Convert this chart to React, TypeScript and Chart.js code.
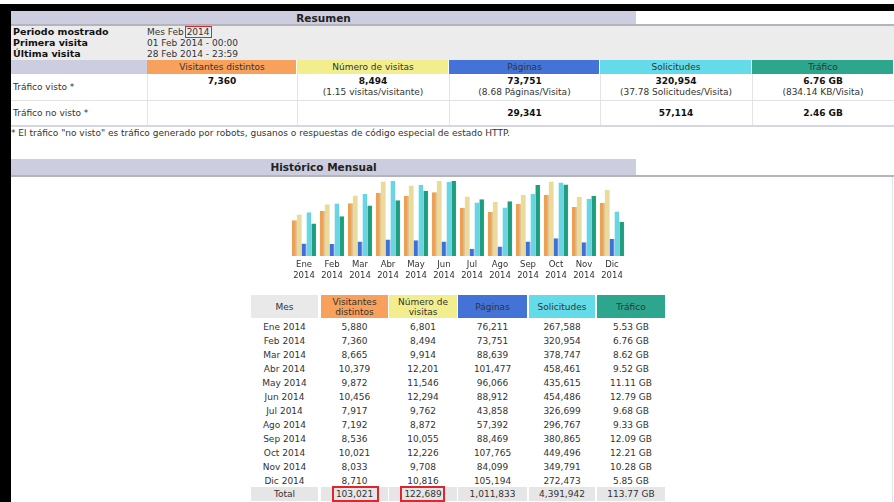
import React, { useEffect, useRef } from 'react';
import { Chart, registerables } from 'chart.js';
Chart.register(...registerables);

const months = ['Ene', 'Feb', 'Mar', 'Abr', 'May', 'Jun', 'Jul', 'Ago', 'Sep', 'Oct', 'Nov', 'Dic'];
const year = '2014';
const visitors = [5880, 7360, 8665, 10379, 9872, 10456, 7917, 7192, 8536, 10021, 8033, 8710];
const visits = [6801, 8494, 9914, 12201, 11546, 12294, 9762, 8872, 10055, 12226, 9708, 10816];
const pages = [76211, 73751, 88639, 101477, 96066, 88912, 43858, 57392, 88469, 107765, 84099, 105194];
const hits = [267588, 320954, 378747, 458461, 435615, 454486, 326699, 296767, 380865, 449496, 349791, 272473];
const bandwidthGB = [5.53, 6.76, 8.62, 9.52, 11.11, 12.79, 9.68, 9.33, 12.09, 12.21, 10.28, 5.85];

const summaryHeaders = ['Visitantes distintos', 'Número de visitas', 'Páginas', 'Solicitudes', 'Tráfico'];
const summarySeen = ['7,360', '8,494', '73,751', '320,954', '6.76 GB'];
const summarySeenSub = ['', '(1.15 visitas/visitante)', '(8.68 Páginas/Visita)', '(37.78 Solicitudes/Visita)', '(834.14 KB/Visita)'];
const summaryUnseen = ['', '', '29,341', '57,114', '2.46 GB'];

const C_ORANGE = '#f8a15c';
const C_YELLOW = '#f2ee8e';
const C_BLUE = '#4473d8';
const C_CYAN = '#63dbe9';
const C_TEAL = '#2ca68c';
const C_LAV = '#cdcde0';

const F = '"DejaVu Sans", Verdana, sans-serif';

const fmt = (n: number) => n.toLocaleString('en-US');

function R({ x, y, w, h, bg, style }: any) {
  return <div style={{ position: 'absolute', left: x, top: y, width: w, height: h, background: bg, ...style }} />;
}

function T({ x, y, children, size = 9, bold = false, align = 'left', w = 240, color = '#333' }: any) {
  const lh = 12;
  let left = x;
  if (align === 'center') left = x - w / 2;
  if (align === 'right') left = x - w;
  return (
    <div
      style={{
        position: 'absolute', left, top: y - lh / 2, width: w, height: lh, lineHeight: lh + 'px',
        fontSize: size, fontWeight: bold ? 'bold' : 'normal', textAlign: align, whiteSpace: 'nowrap', color,
      }}
    >
      {children}
    </div>
  );
}

function BarChart() {
  const ref = useRef<HTMLCanvasElement>(null);
  useEffect(() => {
    const mk = (label: string, data: number[], color: string, edge: string, axis: string) => ({
      label, data, backgroundColor: color, borderColor: edge,
      borderWidth: { left: 0, right: 1, top: 0, bottom: 0 }, borderSkipped: false as any,
      yAxisID: axis, categoryPercentage: 0.875, barPercentage: 1,
    });
    const chart = new Chart(ref.current!, {
      type: 'bar',
      data: {
        labels: months.map((m) => [m, year]),
        datasets: [
          mk('Visitantes distintos', visitors, '#eba254', '#b8732c', 'yv'),
          mk('Número de visitas', visits, '#ecdc90', '#bfae60', 'yv'),
          mk('Páginas', pages, '#3e70da', '#2a4fa8', 'yh'),
          mk('Solicitudes', hits, '#62d9e8', '#35a9ba', 'yh'),
          mk('Tráfico', bandwidthGB, '#1f9e7f', '#0f6f58', 'yb'),
        ] as any,
      },
      options: {
        responsive: false,
        animation: false,
        layout: { padding: { left: 10, right: 9, top: 5, bottom: 0 } },
        plugins: { legend: { display: false }, tooltip: { enabled: false } },
        scales: {
          x: {
            grid: { display: false, drawTicks: false },
            border: { display: false },
            ticks: {
              autoSkip: false, maxRotation: 0, minRotation: 0, padding: 3.5, color: '#333',
              font: { family: F, size: 8.5, lineHeight: '11px' } as any,
            },
            afterFit: (s: any) => { s.height = 30; },
          },
          yv: { display: false, min: 0, max: Math.max(...visits) },
          yh: { display: false, min: 0, max: Math.max(...hits) },
          yb: { display: false, min: 0, max: Math.max(...bandwidthGB) },
        },
      } as any,
    });
    return () => chart.destroy();
  }, []);
  return (
    <div style={{ position: 'absolute', left: 280, top: 176, width: 355, height: 110 }}>
      <canvas ref={ref} width={355} height={110} />
    </div>
  );
}

export default function App() {
  const sCols = [147, 297, 449, 600, 752, 894];
  const sCenters = sCols.slice(0, 5).map((c, i) => (c + sCols[i + 1]) / 2);
  const sColors = [C_ORANGE, C_YELLOW, C_BLUE, C_CYAN, C_TEAL];

  const mCols: [number, number][] = [[251, 318], [321, 388], [389, 457], [458, 527], [529, 595], [597, 665]];
  const mCenters = mCols.map(([a, b]) => (a + b) / 2);
  const mColors = ['#e9e9e9', C_ORANGE, C_YELLOW, C_BLUE, C_CYAN, C_TEAL];
  const sum = (a: number[]) => a.reduce((p, v) => p + v, 0);

  return (
    <div style={{ position: 'fixed', left: 0, top: 0, width: 894, height: 502, background: '#fff', overflow: 'hidden', fontFamily: F }}>
      {/* frame */}
      <R x={0} y={4} w={894} h={7} bg="#000" />
      <R x={0} y={4} w={11} h={498} bg="#000" />

      {/* Resumen header */}
      <R x={11} y={11} w={625} h={13} bg={C_LAV} />
      <T x={323.5} y={17.5} align="center" w={300} size={10.5} bold color="#222">Resumen</T>
      <R x={11} y={24} w={883} h={2} bg="#b4b4bc" />
      <R x={11} y={26} w={883} h={34} bg="#ececec" />
      <T x={13} y={32} size={9.5} bold color="#111">Periodo mostrado</T>
      <T x={13} y={43.3} size={9.5} bold color="#111">Primera visita</T>
      <T x={13} y={54} size={9.5} bold color="#111">Última visita</T>
      <T x={147} y={32}>Mes Feb 2014</T>
      <T x={147} y={43.3}>01 Feb 2014 - 00:00</T>
      <T x={147} y={54}>28 Feb 2014 - 23:59</T>
      <div style={{ position: 'absolute', left: 185, top: 26, width: 27, height: 12, border: '1.5px solid #e0262a', boxSizing: 'border-box' }} />

      {/* summary header row */}
      <R x={11} y={60} w={136} h={14} bg={C_LAV} />
      {sColors.map((c, i) => (
        <R key={'sh' + i} x={sCols[i]} y={60} w={sCols[i + 1] - sCols[i] - 1} h={14} bg={c} />
      ))}
      {summaryHeaders.map((h, i) => (
        <T key={'st' + i} x={sCenters[i]} y={67} align="center" w={150} color="#333">{h}</T>
      ))}

      {/* summary rows */}
      <R x={11} y={100} w={883} h={1} bg="#e2e2e2" />
      {sCols.slice(0, 5).map((c, i) => (
        <R key={'sv' + i} x={c} y={74} w={1} h={51} bg="#e4e4e4" />
      ))}
      <T x={13} y={87}>Tráfico visto *</T>
      <T x={13} y={112.7}>Tráfico no visto *</T>
      {summarySeen.map((v, i) => (
        <T key={'ss' + i} x={sCenters[i]} y={80.7} align="center" w={150} bold color="#111">{v}</T>
      ))}
      {summarySeenSub.map((v, i) => (
        <T key={'sb' + i} x={sCenters[i]} y={91.7} align="center" w={150}>{v}</T>
      ))}
      {summaryUnseen.map((v, i) => (
        <T key={'su' + i} x={sCenters[i]} y={112.5} align="center" w={150} bold color="#111">{v}</T>
      ))}
      <R x={11} y={125} w={883} h={2} bg="#d6d6e2" />
      <T x={11} y={133.3} w={700}>* El tráfico "no visto" es tráfico generado por robots, gusanos o respuestas de código especial de estado HTTP.</T>

      {/* Histórico header */}
      <R x={11} y={159} w={625} h={16} bg={C_LAV} />
      <T x={323.5} y={167} align="center" w={300} size={10.5} bold color="#222">Histórico Mensual</T>
      <R x={11} y={175} w={883} h={2} bg="#b4b4bc" />
      <R x={892} y={177} w={1} h={325} bg="#e4e4e4" />

      <BarChart />

      {/* monthly table header */}
      {mCols.map(([a, b], i) => (
        <R key={'mh' + i} x={a} y={295} w={b - a} h={23} bg={mColors[i]} />
      ))}
      <T x={mCenters[0]} y={307} align="center" w={70}>Mes</T>
      <T x={mCenters[1]} y={302} align="center" w={70}>Visitantes</T>
      <T x={mCenters[1]} y={312} align="center" w={70}>distintos</T>
      <T x={mCenters[2]} y={302} align="center" w={70}>Número de</T>
      <T x={mCenters[2]} y={312} align="center" w={70}>visitas</T>
      <T x={mCenters[3]} y={307} align="center" w={70}>Páginas</T>
      <T x={mCenters[4]} y={307} align="center" w={70}>Solicitudes</T>
      <T x={mCenters[5]} y={307} align="center" w={70}>Tráfico</T>

      {months.map((m, i) => {
        const y = 326.5 + i * 14;
        const vals = [m + ' ' + year, fmt(visitors[i]), fmt(visits[i]), fmt(pages[i]), fmt(hits[i]), bandwidthGB[i].toFixed(2) + ' GB'];
        return vals.map((v, j) => (
          <T key={'m' + i + '-' + j} x={mCenters[j]} y={y} align="center" w={70}>{v}</T>
        ));
      })}

      {/* total row */}
      {mCols.map(([a, b], i) => (
        <R key={'mt' + i} x={a} y={487} w={b - a} h={14} bg="#e6e6e6" />
      ))}
      {['Total', fmt(sum(visitors)), fmt(sum(visits)), fmt(sum(pages)), fmt(sum(hits)), sum(bandwidthGB).toFixed(2) + ' GB'].map((v, j) => (
        <T key={'tt' + j} x={mCenters[j]} y={494} align="center" w={70}>{v}</T>
      ))}
      <div style={{ position: 'absolute', left: 332, top: 486, width: 47, height: 16, border: '2px solid #e0262a', boxSizing: 'border-box' }} />
      <div style={{ position: 'absolute', left: 400, top: 486, width: 45, height: 16, border: '2px solid #e0262a', boxSizing: 'border-box' }} />
    </div>
  );
}
